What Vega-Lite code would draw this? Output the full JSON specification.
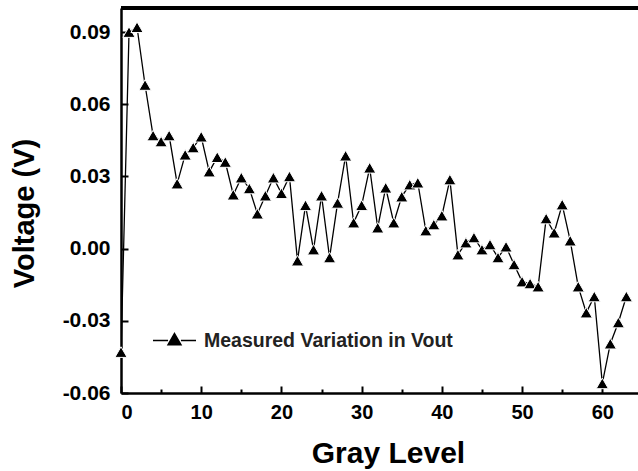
{
  "$schema": "https://vega.github.io/schema/vega-lite/v6.json",
  "width": 517,
  "height": 385,
  "autosize": {"type": "none"},
  "padding": {"left": 121, "top": 8, "right": 0, "bottom": 78},
  "background": "white",
  "config": {
    "view": {"stroke": null},
    "font": "Liberation Sans",
    "axis": {"labelFont": "Liberation Sans", "titleFont": "Liberation Sans", "labelFontWeight": "bold", "titleFontWeight": "bold", "labelColor": "black", "titleColor": "black", "domainColor": "black", "tickColor": "black", "grid": false}
  },
  "data": {"values": [
    {"g":0,"v":-0.043,"s":"Measured Variation in Vout"},
    {"g":1,"v":0.090,"s":"Measured Variation in Vout"},
    {"g":2,"v":0.092,"s":"Measured Variation in Vout"},
    {"g":3,"v":0.068,"s":"Measured Variation in Vout"},
    {"g":4,"v":0.047,"s":"Measured Variation in Vout"},
    {"g":5,"v":0.0445,"s":"Measured Variation in Vout"},
    {"g":6,"v":0.047,"s":"Measured Variation in Vout"},
    {"g":7,"v":0.027,"s":"Measured Variation in Vout"},
    {"g":8,"v":0.039,"s":"Measured Variation in Vout"},
    {"g":9,"v":0.042,"s":"Measured Variation in Vout"},
    {"g":10,"v":0.0465,"s":"Measured Variation in Vout"},
    {"g":11,"v":0.032,"s":"Measured Variation in Vout"},
    {"g":12,"v":0.038,"s":"Measured Variation in Vout"},
    {"g":13,"v":0.036,"s":"Measured Variation in Vout"},
    {"g":14,"v":0.0224,"s":"Measured Variation in Vout"},
    {"g":15,"v":0.0295,"s":"Measured Variation in Vout"},
    {"g":16,"v":0.025,"s":"Measured Variation in Vout"},
    {"g":17,"v":0.0145,"s":"Measured Variation in Vout"},
    {"g":18,"v":0.022,"s":"Measured Variation in Vout"},
    {"g":19,"v":0.0295,"s":"Measured Variation in Vout"},
    {"g":20,"v":0.023,"s":"Measured Variation in Vout"},
    {"g":21,"v":0.030,"s":"Measured Variation in Vout"},
    {"g":22,"v":-0.005,"s":"Measured Variation in Vout"},
    {"g":23,"v":0.018,"s":"Measured Variation in Vout"},
    {"g":24,"v":-0.0004,"s":"Measured Variation in Vout"},
    {"g":25,"v":0.022,"s":"Measured Variation in Vout"},
    {"g":26,"v":-0.0037,"s":"Measured Variation in Vout"},
    {"g":27,"v":0.019,"s":"Measured Variation in Vout"},
    {"g":28,"v":0.0386,"s":"Measured Variation in Vout"},
    {"g":29,"v":0.0108,"s":"Measured Variation in Vout"},
    {"g":30,"v":0.018,"s":"Measured Variation in Vout"},
    {"g":31,"v":0.0336,"s":"Measured Variation in Vout"},
    {"g":32,"v":0.0087,"s":"Measured Variation in Vout"},
    {"g":33,"v":0.0253,"s":"Measured Variation in Vout"},
    {"g":34,"v":0.0108,"s":"Measured Variation in Vout"},
    {"g":35,"v":0.0216,"s":"Measured Variation in Vout"},
    {"g":36,"v":0.0266,"s":"Measured Variation in Vout"},
    {"g":37,"v":0.0274,"s":"Measured Variation in Vout"},
    {"g":38,"v":0.0075,"s":"Measured Variation in Vout"},
    {"g":39,"v":0.010,"s":"Measured Variation in Vout"},
    {"g":40,"v":0.0137,"s":"Measured Variation in Vout"},
    {"g":41,"v":0.0287,"s":"Measured Variation in Vout"},
    {"g":42,"v":-0.0025,"s":"Measured Variation in Vout"},
    {"g":43,"v":0.0025,"s":"Measured Variation in Vout"},
    {"g":44,"v":0.0046,"s":"Measured Variation in Vout"},
    {"g":45,"v":-0.0004,"s":"Measured Variation in Vout"},
    {"g":46,"v":0.0017,"s":"Measured Variation in Vout"},
    {"g":47,"v":-0.0037,"s":"Measured Variation in Vout"},
    {"g":48,"v":0.0008,"s":"Measured Variation in Vout"},
    {"g":49,"v":-0.0066,"s":"Measured Variation in Vout"},
    {"g":50,"v":-0.0137,"s":"Measured Variation in Vout"},
    {"g":51,"v":-0.0145,"s":"Measured Variation in Vout"},
    {"g":52,"v":-0.0158,"s":"Measured Variation in Vout"},
    {"g":53,"v":0.0125,"s":"Measured Variation in Vout"},
    {"g":54,"v":0.0066,"s":"Measured Variation in Vout"},
    {"g":55,"v":0.0183,"s":"Measured Variation in Vout"},
    {"g":56,"v":0.0033,"s":"Measured Variation in Vout"},
    {"g":57,"v":-0.0158,"s":"Measured Variation in Vout"},
    {"g":58,"v":-0.0266,"s":"Measured Variation in Vout"},
    {"g":59,"v":-0.0199,"s":"Measured Variation in Vout"},
    {"g":60,"v":-0.056,"s":"Measured Variation in Vout"},
    {"g":61,"v":-0.0395,"s":"Measured Variation in Vout"},
    {"g":62,"v":-0.0307,"s":"Measured Variation in Vout"},
    {"g":63,"v":-0.0199,"s":"Measured Variation in Vout"}
  ]},
  "layer": [
    {
      "mark": {"type": "line", "strokeWidth": 1.3, "clip": true},
      "encoding": {
        "x": {"field": "g", "type": "quantitative", "scale": {"domain": [0, 64.45], "nice": false, "zero": false},
          "axis": {"title": "Gray Level", "values": [0,5,10,15,20,25,30,35,40,45,50,55,60],
            "labelExpr": "datum.value % 10 != 0 ? '' : datum.label", "format": "d",
            "labelFontSize": 20, "labelPadding": 16,
            "tickSize": -7,
            "tickDash": {"condition": {"test": "datum.value % 10 != 0", "value": [4, 40]}, "value": []},
            "tickWidth": 2, "domainWidth": 2.5, "titleFontSize": 30, "titleX": 267, "titleY": 69, "titleBaseline": "alphabetic", "titleAnchor": null, "titleAlign": "center"}},
        "y": {"field": "v", "type": "quantitative", "scale": {"domain": [-0.06, 0.1], "nice": false, "zero": false},
          "axis": {"title": "Voltage (V)", "values": [-0.06,-0.045,-0.03,-0.015,0,0.015,0.03,0.045,0.06,0.075,0.09],
            "labelExpr": "round(datum.value*1000) % 30 != 0 ? '' : replace(format(datum.value, '.2f'), '\u2212', '-')",
            "labelFontSize": 21, "labelPadding": 18,
            "tickSize": -7,
            "tickDash": {"condition": {"test": "round(datum.value*1000) % 30 != 0", "value": [4, 40]}, "value": []},
            "tickWidth": 2, "domainWidth": 2.5, "titleFontSize": 29, "titleAngle": -90, "titleX": -88, "titleY": 205, "titleBaseline": "alphabetic", "titleAlign": "center", "titleAnchor": null}},
        "color": {"field": "s", "type": "nominal", "scale": {"range": ["black"]},
          "legend": {"title": null, "orient": "none", "legendX": 31, "legendY": 310, "padding": 0,
            "symbolType": "M-1,0L-0.3,0M0.3,0L1,0M0,-0.32L0.3,0.2L-0.3,0.2Z",
            "symbolSize": 1850, "symbolStrokeWidth": 1.5, "symbolFillColor": "black", "symbolStrokeColor": "black",
            "labelFont": "Liberation Sans", "labelFontWeight": "bold", "labelFontSize": 19.5, "labelColor": "#222", "labelOffset": 7, "labelLimit": 400,
            "encode": {"symbols": {"update": {"fill": {"value": "black"}, "stroke": {"value": "black"}}}}}}
      }
    },
    {
      "mark": {"type": "point", "shape": "triangle-up", "filled": true, "size": 150, "color": "black", "stroke": "white", "strokeWidth": 1, "opacity": 1},
      "encoding": {
        "x": {"field": "g", "type": "quantitative"},
        "y": {"field": "v", "type": "quantitative"}
      }
    },
    {
      "mark": {"type": "rule", "strokeWidth": 3, "color": "black"},
      "encoding": {"y": {"datum": 0.1, "type": "quantitative"}}
    }
  ]
}
